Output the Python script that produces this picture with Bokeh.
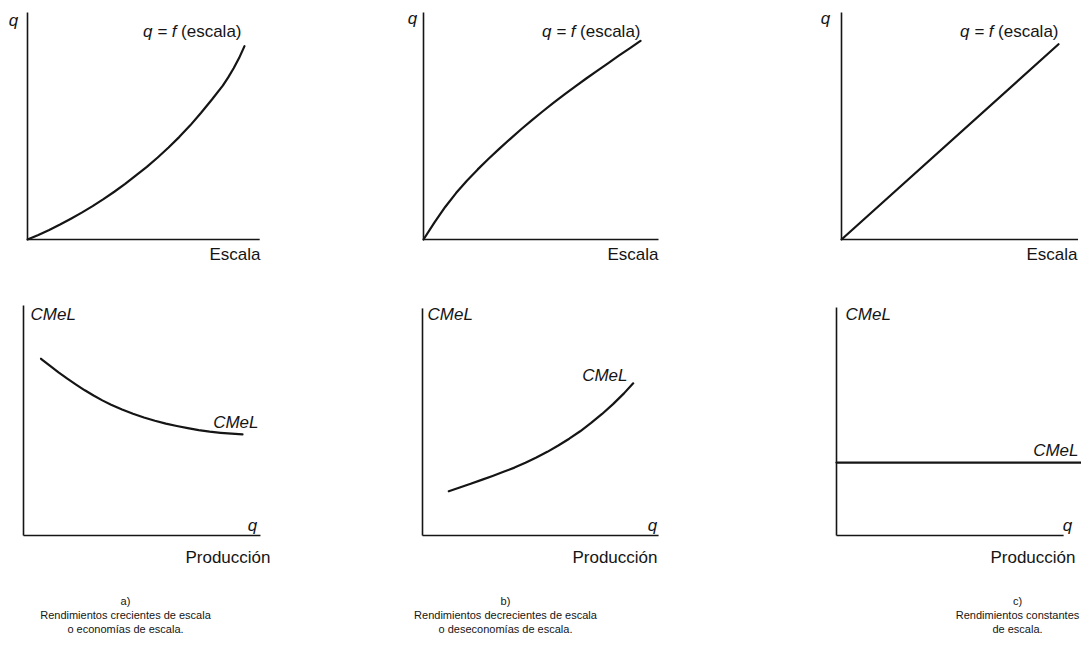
from bokeh.plotting import figure
from bokeh.models import Range1d, Label
from bokeh.embed import file_html
from bokeh.resources import INLINE

# ---------------- data ----------------
escala_a = [0, 0.5, 1, 1.5, 2, 2.5, 3, 3.5, 4, 4.5, 5, 5.5, 6, 6.5, 7, 7.5, 8, 8.5,
            9, 9.25, 9.5, 9.75, 10]
q_a = [0, 0.21, 0.44, 0.69, 0.96, 1.24, 1.54, 1.86, 2.20, 2.56, 2.95, 3.35, 3.78,
       4.24, 4.73, 5.26, 5.84, 6.45, 7.09, 7.47, 7.89, 8.36, 8.91]

escala_b = [0, 0.5, 1, 1.5, 2, 2.5, 3, 3.5, 4, 4.5, 5, 5.5, 6, 6.5, 7, 7.5, 8, 8.5,
            9, 9.5, 10]
q_b = [0, 0.78, 1.50, 2.14, 2.71, 3.23, 3.72, 4.19, 4.64, 5.08, 5.50, 5.91, 6.31,
       6.69, 7.06, 7.42, 7.77, 8.12, 8.47, 8.81, 9.15]

escala_c = [0, 10]
q_c = [0, 9.0]

prod_a = [0.8, 1.2, 1.6, 2.0, 2.4, 2.8, 3.2, 3.6, 4.0, 4.5, 5.0, 5.5, 6.0, 6.5, 7.0,
          7.5, 8.0, 8.5, 9.0, 9.5, 10.0]
cmel_a = [8.07, 7.76, 7.45, 7.16, 6.89, 6.63, 6.39, 6.17, 5.97, 5.75, 5.56, 5.39,
          5.24, 5.11, 5.00, 4.90, 4.81, 4.74, 4.69, 4.65, 4.62]

prod_b = [1.2, 1.7, 2.2, 2.7, 3.2, 3.7, 4.2, 4.7, 5.2, 5.7, 6.2, 6.7, 7.2, 7.7, 8.2,
          8.7, 9.2, 9.62]
cmel_b = [2.02, 2.19, 2.36, 2.54, 2.72, 2.91, 3.10, 3.32, 3.56, 3.82, 4.11, 4.42,
          4.76, 5.14, 5.55, 6.00, 6.49, 6.95]

prod_c = [0, 11.6]
cmel_c = [3.33, 3.33]

captions = [
    ["a)", "Rendimientos crecientes de escala", "o economías de escala."],
    ["b)", "Rendimientos decrecientes de escala", "o deseconomías de escala."],
    ["c)", "Rendimientos constantes", "de escala."],
]

# ---------------- layout ----------------
W, H = 1081, 660
X0, Y0 = 0, 0
INK = "#151515"
FONT = "Liberation Sans"
LBL = "17px"
CAP = "11px"

p = figure(width=W, height=H, x_range=Range1d(X0, X0 + W), y_range=Range1d(Y0 + H, Y0),
           output_backend="svg", toolbar_location=None, x_axis_type=None, y_axis_type=None,
           min_border=0, outline_line_color=None)
p.grid.visible = False
p.background_fill_color = "white"
p.border_fill_color = "white"

panels = {
    "ta": dict(ox=27, oy=239, s=21.7, xlen=10.7, ylen=10.46),
    "tb": dict(ox=423, oy=239, s=21.7, xlen=10.83, ylen=10.46),
    "tc": dict(ox=841, oy=239, s=21.7, xlen=10.9, ylen=10.46),
    "ba": dict(ox=23, oy=535, s=21.9, xlen=10.82, ylen=10.5),
    "bb": dict(ox=422, oy=535, s=21.9, xlen=10.78, ylen=10.37),
    "bc": dict(ox=836, oy=535, s=21.9, xlen=10.37, ylen=10.41),
}
series = {
    "ta": (escala_a, q_a), "tb": (escala_b, q_b), "tc": (escala_c, q_c),
    "ba": (prod_a, cmel_a), "bb": (prod_b, cmel_b), "bc": (prod_c, cmel_c),
}

for name, cfg in panels.items():
    s, ox, oy = cfg["s"], cfg["ox"], cfg["oy"]
    p.extra_x_ranges[name] = Range1d((X0 - ox) / s, (X0 + W - ox) / s)
    p.extra_y_ranges[name] = Range1d((oy - (Y0 + H)) / s, (oy - Y0) / s)
    p.line([0, 0], [0, cfg["ylen"]], x_range_name=name, y_range_name=name,
           line_color=INK, line_width=1.6)
    p.line([0, cfg["xlen"]], [0, 0], x_range_name=name, y_range_name=name,
           line_color=INK, line_width=1.6)
    xs, ys = series[name]
    p.line(xs, ys, x_range_name=name, y_range_name=name, line_color=INK,
           line_width=2.2, line_join="round", line_cap="round")


def lab(x, y, text, align="left", style="normal", size=LBL, font=FONT):
    p.add_layout(Label(x=x, y=y, text=text, text_align=align, text_baseline="middle",
                       text_font=font, text_font_size=size, text_font_style=style,
                       text_color=INK))


# top row labels
for (qx, qy), ex, ax in [((13, 20), 241, 260), ((412, 18), 640, 658),
                         ((825, 18), 1058, 1077)]:
    lab(qx, qy, "q", "center", "italic")
    lab(ex - 65, 31, "q = f", "right", "italic")
    lab(ex, 31, "(escala)", "right")
    lab(ax, 254, "Escala", "right")

# bottom row labels
for cx, (lx, ly), qx, px in [(30, (258, 422), 252, 270), (427, (627, 375), 652, 657),
                             (845, (1078, 450), 1067, 1075)]:
    lab(cx, 314, "CMeL", "left", "italic")
    lab(lx, ly, "CMeL", "right", "italic")
    lab(qx, 525, "q", "center", "italic")
    lab(px, 557, "Producción", "right")

# captions
for cx, lines in zip([125, 505, 1017], captions):
    for i, t in enumerate(lines):
        lab(cx, 600 + 14 * i, t, "center", "normal", CAP)

open("out.html", "w").write(file_html(p, INLINE))
